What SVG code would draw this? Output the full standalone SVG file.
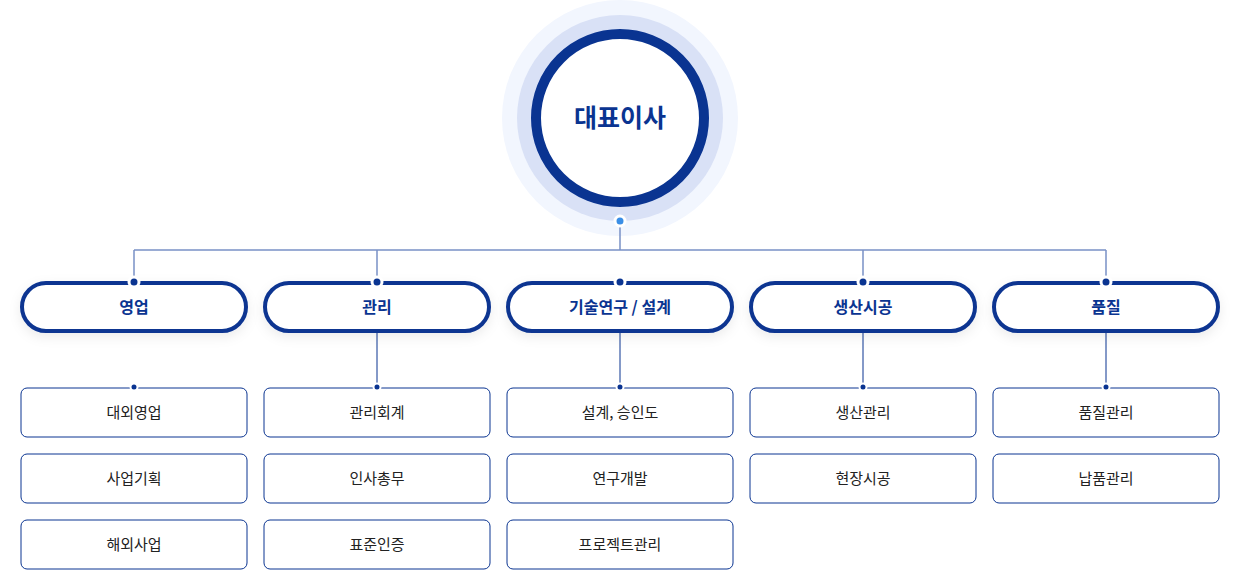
<svg xmlns="http://www.w3.org/2000/svg" width="1240" height="570" viewBox="0 0 1240 570">
<defs>
<style>
.pill{fill:#fff;stroke:#0a3491;stroke-width:4;filter:url(#sh)}
.pt{font-family:"Noto Sans CJK KR",sans-serif;font-size:16px;font-weight:bold;fill:#0a3491;text-anchor:middle}
.box{fill:#fff;stroke:#0a3491;stroke-width:1}
.bt{font-family:"Noto Sans CJK KR",sans-serif;font-size:15px;fill:#222;text-anchor:middle}
.ln{stroke:#7a91c6;stroke-width:1.5;fill:none}
.vl{stroke:#0a3491;stroke-width:1;fill:none}
.dot{fill:#0a3491;stroke:#fff;stroke-width:3}
.sd{fill:#0a3491;stroke:#fff;stroke-width:2}
</style>
<filter id="sh" x="-20%" y="-50%" width="140%" height="200%"><feDropShadow dx="0" dy="4" stdDeviation="6" flood-color="#000" flood-opacity="0.08"/></filter>
</defs>
<rect width="1240" height="570" fill="#fff"/>
<g id="ceo">
<circle cx="620" cy="118" r="118" fill="#f2f6fe"/>
<circle cx="620" cy="118" r="103" fill="#d9e1f6"/>
<circle cx="620" cy="118" r="84" fill="#fff" stroke="#0a3491" stroke-width="10"/>
<text x="620" y="127" font-family="'Noto Sans CJK KR',sans-serif" font-size="25" font-weight="bold" fill="#0a3491" text-anchor="middle">대표이사</text>
</g>
<g id="connectors">
<path class="ln" d="M620 221V250M134 250H1106M134 250V282M377 250V282M863 250V282M1106 250V282"/>
<path class="vl" d="M377 332V387M620 332V387M863 332V387M1106 332V387"/>
<circle cx="620" cy="221" r="5" fill="#3a8ee6" stroke="#fff" stroke-width="3"/>
</g>
<g id="n1"><rect class="pill" x="22" y="283" width="224" height="48" rx="24"/><text class="pt" x="134" y="313">영업</text><circle class="dot" cx="134" cy="282" r="5"/></g>
<g id="n2"><rect class="pill" x="265" y="283" width="224" height="48" rx="24"/><text class="pt" x="377" y="313">관리</text><circle class="dot" cx="377" cy="282" r="5"/></g>
<g id="n3"><rect class="pill" x="508" y="283" width="224" height="48" rx="24"/><text class="pt" x="620" y="313">기술연구 / 설계</text><circle class="dot" cx="620" cy="282" r="5"/></g>
<g id="n4"><rect class="pill" x="751" y="283" width="224" height="48" rx="24"/><text class="pt" x="863" y="313">생산시공</text><circle class="dot" cx="863" cy="282" r="5"/></g>
<g id="n5"><rect class="pill" x="994" y="283" width="224" height="48" rx="24"/><text class="pt" x="1106" y="313">품질</text><circle class="dot" cx="1106" cy="282" r="5"/></g>
<g id="s11"><rect class="box" x="21" y="388" width="226" height="49" rx="6"/><text class="bt" x="134" y="418">대외영업</text><circle class="sd" cx="134" cy="387" r="3.5"/></g>
<g id="s12"><rect class="box" x="21" y="454" width="226" height="49" rx="6"/><text class="bt" x="134" y="484">사업기획</text></g>
<g id="s13"><rect class="box" x="21" y="520" width="226" height="49" rx="6"/><text class="bt" x="134" y="550">해외사업</text></g>
<g id="s21"><rect class="box" x="264" y="388" width="226" height="49" rx="6"/><text class="bt" x="377" y="418">관리회계</text><circle class="sd" cx="377" cy="387" r="3.5"/></g>
<g id="s22"><rect class="box" x="264" y="454" width="226" height="49" rx="6"/><text class="bt" x="377" y="484">인사총무</text></g>
<g id="s23"><rect class="box" x="264" y="520" width="226" height="49" rx="6"/><text class="bt" x="377" y="550">표준인증</text></g>
<g id="s31"><rect class="box" x="507" y="388" width="226" height="49" rx="6"/><text class="bt" x="620" y="418">설계, 승인도</text><circle class="sd" cx="620" cy="387" r="3.5"/></g>
<g id="s32"><rect class="box" x="507" y="454" width="226" height="49" rx="6"/><text class="bt" x="620" y="484">연구개발</text></g>
<g id="s33"><rect class="box" x="507" y="520" width="226" height="49" rx="6"/><text class="bt" x="620" y="550">프로젝트관리</text></g>
<g id="s41"><rect class="box" x="750" y="388" width="226" height="49" rx="6"/><text class="bt" x="863" y="418">생산관리</text><circle class="sd" cx="863" cy="387" r="3.5"/></g>
<g id="s42"><rect class="box" x="750" y="454" width="226" height="49" rx="6"/><text class="bt" x="863" y="484">현장시공</text></g>
<g id="s51"><rect class="box" x="993" y="388" width="226" height="49" rx="6"/><text class="bt" x="1106" y="418">품질관리</text><circle class="sd" cx="1106" cy="387" r="3.5"/></g>
<g id="s52"><rect class="box" x="993" y="454" width="226" height="49" rx="6"/><text class="bt" x="1106" y="484">납품관리</text></g>
</svg>
